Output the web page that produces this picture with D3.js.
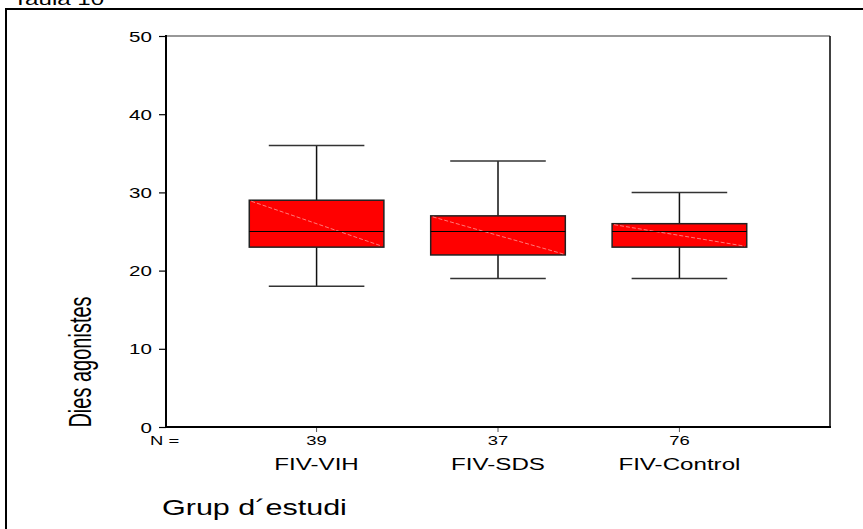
<!DOCTYPE html>
<html>
<head>
<meta charset="utf-8">
<script src="https://cdn.jsdelivr.net/npm/d3@7/dist/d3.min.js"></script>
<style>
  body { margin: 0; background: #fff; }
  svg { display: block; }
  text { font-family: "Liberation Sans", Arial, sans-serif; fill: #000; }
</style>
</head>
<body>
<svg id="chart" width="863" height="529"></svg>
<script>
// SPSS boxplot, "Taula 10"
const groups = ['FIV-VIH', 'FIV-SDS', 'FIV-Control'];
const nValues = [39, 37, 76];
const minValues = [18, 19, 19];
const q1Values = [23, 22, 23];
const medianValues = [25, 25, 25];
const q3Values = [29, 27, 26];
const maxValues = [36, 34, 30];
const yTicks = [0, 10, 20, 30, 40, 50];

// the original picture is stretched sideways, text included
const SX = 1.42;

const svg = d3.select('#chart');

const plot = { left: 166, top: 36, right: 830, bottom: 427 };

const y = d3.scaleLinear()
  .domain([0, 50])
  .range([plot.bottom, plot.top]);

const x = d3.scaleBand()
  .domain(groups)
  .range([plot.left, plot.right])
  .paddingInner(0.258)
  .paddingOuter(0.459);

const data = groups.map((g, i) => ({
  group: g,
  n: nValues[i],
  min: minValues[i],
  q1: q1Values[i],
  median: medianValues[i],
  q3: q3Values[i],
  max: maxValues[i]
}));

const stretchText = (sel, px, py) => sel.attr('transform', `translate(${ px },${ py }) scale(${ SX },1)`);

// outer frame (runs off the page on the right and bottom)
svg.append('rect')
  .attr('x', 6)
  .attr('y', 9)
  .attr('width', 900)
  .attr('height', 600)
  .attr('fill', 'none')
  .attr('stroke', '#000')
  .attr('stroke-width', 2);

svg.append('text')
  .attr('font-size', 17)
  .text('Taula 10')
  .call(stretchText, 13, 5);

// plot frame
svg.append('line')
  .attr('x1', plot.left).attr('x2', plot.right)
  .attr('y1', plot.top).attr('y2', plot.top)
  .attr('stroke', '#333').attr('stroke-width', 1.2);

svg.append('line')
  .attr('x1', plot.right).attr('x2', plot.right)
  .attr('y1', plot.top).attr('y2', plot.bottom)
  .attr('stroke', '#111').attr('stroke-width', 1.6);

// y axis
const yAxis = svg.append('g')
  .attr('transform', `translate(${ plot.left },0)`)
  .call(d3.axisLeft(y).tickValues(yTicks).tickSize(7).tickSizeOuter(0));

yAxis.select('.domain').remove();
yAxis.selectAll('.tick line').attr('stroke', '#000').attr('stroke-width', 1.2);
yAxis.selectAll('.tick text')
  .attr('x', null)
  .attr('dy', null)
  .attr('font-size', 14.5)
  .attr('font-family', null)
  .attr('text-anchor', 'end')
  .attr('transform', `translate(-14,5) scale(${ SX },1)`);

svg.append('line')
  .attr('x1', plot.left).attr('x2', plot.left)
  .attr('y1', plot.top - 1).attr('y2', plot.bottom + 1)
  .attr('stroke', '#000').attr('stroke-width', 2);

// x axis
const xAxis = svg.append('g')
  .attr('transform', `translate(0,${ plot.bottom })`)
  .call(d3.axisBottom(x).tickSize(5).tickSizeOuter(0).tickFormat((d, i) => nValues[i]));

xAxis.select('.domain').remove();
xAxis.selectAll('.tick line').attr('stroke', '#555').attr('stroke-width', 1);
xAxis.selectAll('.tick text')
  .attr('y', null)
  .attr('dy', null)
  .attr('font-size', 13)
  .attr('font-family', null)
  .attr('transform', `translate(0,18) scale(${ SX },1)`);

svg.append('line')
  .attr('x1', plot.left - 1).attr('x2', plot.right + 1)
  .attr('y1', plot.bottom).attr('y2', plot.bottom)
  .attr('stroke', '#000').attr('stroke-width', 2);

svg.append('text')
  .attr('font-size', 13)
  .text('N =')
  .call(stretchText, 150, 445);

// group labels
svg.selectAll('text.group')
  .data(data)
  .join('text')
  .attr('class', 'group')
  .attr('font-size', 17)
  .attr('text-anchor', 'middle')
  .text(d => d.group)
  .each(function(d) {
    d3.select(this).call(stretchText, x(d.group) + x.bandwidth() / 2, 470);
  });

svg.append('text')
  .attr('font-size', 21.5)
  .text('Grup d\u00b4estudi')
  .call(stretchText, 162, 515);

svg.append('text')
  .attr('font-size', 20)
  .attr('text-anchor', 'middle')
  .attr('transform', `translate(91,362) scale(1.55,1) rotate(-90)`)
  .text('Dies agonistes');

// boxes
const box = svg.append('g')
  .selectAll('g.box')
  .data(data)
  .join('g')
  .attr('class', 'box');

const cx = d => x(d.group) + x.bandwidth() / 2;
const capHalf = x.bandwidth() * 0.355;

box.append('line')
  .attr('x1', cx).attr('x2', cx)
  .attr('y1', d => y(d.max)).attr('y2', d => y(d.q3))
  .attr('stroke', '#111').attr('stroke-width', 1.5);

box.append('line')
  .attr('x1', cx).attr('x2', cx)
  .attr('y1', d => y(d.q1)).attr('y2', d => y(d.min))
  .attr('stroke', '#111').attr('stroke-width', 1.5);

box.append('line')
  .attr('x1', d => cx(d) - capHalf).attr('x2', d => cx(d) + capHalf)
  .attr('y1', d => y(d.max)).attr('y2', d => y(d.max))
  .attr('stroke', '#333').attr('stroke-width', 1.5);

box.append('line')
  .attr('x1', d => cx(d) - capHalf).attr('x2', d => cx(d) + capHalf)
  .attr('y1', d => y(d.min)).attr('y2', d => y(d.min))
  .attr('stroke', '#333').attr('stroke-width', 1.5);

box.append('rect')
  .attr('x', d => x(d.group))
  .attr('y', d => y(d.q3))
  .attr('width', x.bandwidth())
  .attr('height', d => y(d.q1) - y(d.q3))
  .attr('fill', '#ff0000')
  .attr('stroke', '#222')
  .attr('stroke-width', 1.5);

box.append('line')
  .attr('x1', d => x(d.group) + 2).attr('x2', d => x(d.group) + x.bandwidth() - 2)
  .attr('y1', d => y(d.q3) + 1).attr('y2', d => y(d.q1) - 1)
  .attr('stroke', '#ff7a7a')
  .attr('stroke-width', 1)
  .attr('stroke-dasharray', '4,2');

box.append('line')
  .attr('x1', d => x(d.group)).attr('x2', d => x(d.group) + x.bandwidth())
  .attr('y1', d => y(d.median)).attr('y2', d => y(d.median))
  .attr('stroke', '#000').attr('stroke-width', 1.2);
</script>
</body>
</html>
